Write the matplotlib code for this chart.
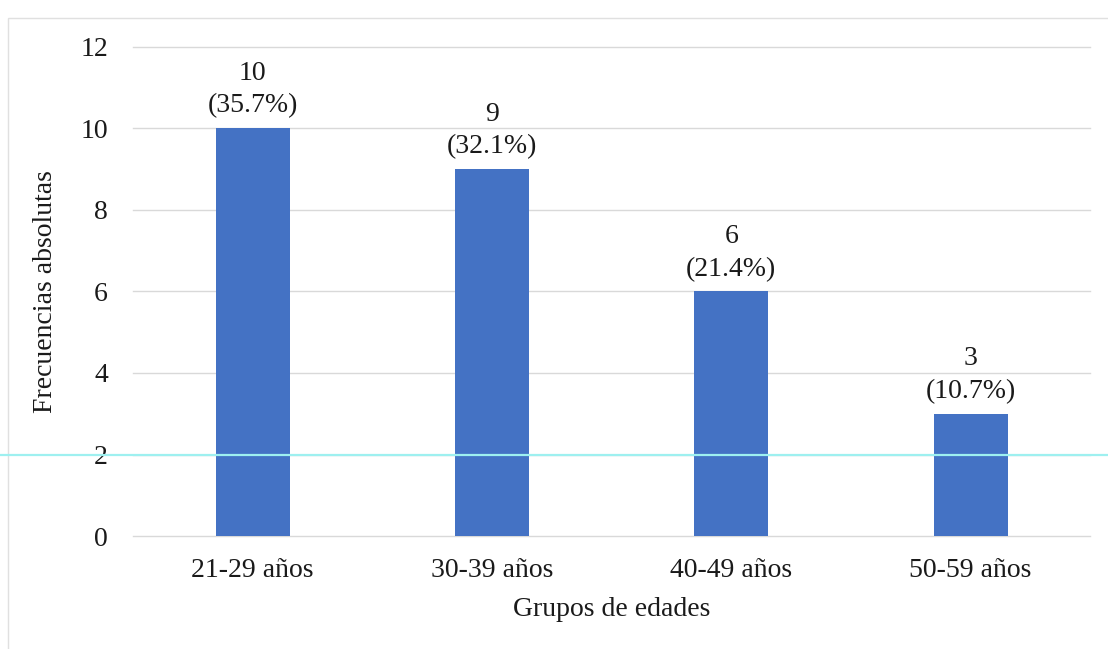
import matplotlib
matplotlib.use("Agg")
import matplotlib.pyplot as plt
from matplotlib.lines import Line2D
from matplotlib.patches import Rectangle

grupos = ["21-29 años", "30-39 años", "40-49 años", "50-59 años"]
frecuencias = [10, 9, 6, 3]
porcentajes = [35.7, 32.1, 21.4, 10.7]

plt.rcParams['font.family'] = ['Liberation Serif', 'DejaVu Serif']

fig = plt.figure(figsize=(11.08, 6.49), dpi=100)
ax = fig.add_axes([0.120, 0.174, 0.864, 0.754])

x = list(range(len(grupos)))
barras = ax.bar(x, frecuencias, width=0.31, color='#4472C4', zorder=3)

# etiqueta con frecuencia y porcentaje encima de cada barra
for xi, f, p in zip(x, frecuencias, porcentajes):
    ax.annotate(f"{f}\n({p}%)", (xi, f), xytext=(0, 7), textcoords='offset points',
                ha='center', va='bottom', fontsize=20, color='#1a1a1a', linespacing=1.4)

ax.set_xlim(-0.5, 3.5)
ax.set_ylim(0, 12)
ax.set_yticks(range(0, 13, 2))
ax.set_xticks(x)
ax.set_xticklabels(grupos)
ax.tick_params(axis='both', length=0, labelsize=20, colors='#1a1a1a')
ax.tick_params(axis='y', pad=18)
ax.tick_params(axis='x', pad=16)
ax.grid(axis='y', color='#d9d9d9', linewidth=1, zorder=0)
for l in ax.get_ygridlines():
    l.set_clip_on(False)
for s in ax.spines.values():
    s.set_visible(False)

ax.set_xlabel("Grupos de edades", fontsize=20, color='#1a1a1a', labelpad=10)
ax.set_ylabel("Frecuencias absolutas", fontsize=20, color='#1a1a1a', labelpad=16)

# marco del gráfico y línea cian del escaneo
fig.add_artist(Rectangle((0.007, -0.01), 1.0, 0.982, transform=fig.transFigure,
                         fill=False, edgecolor='#e0e0e0', linewidth=1))
fig.add_artist(Line2D([0, 1], [1 - 455 / 649, 1 - 455 / 649], transform=fig.transFigure,
                      color='#9ef0f0', linewidth=1.6, zorder=5))

fig.savefig("out.png", dpi=100)
